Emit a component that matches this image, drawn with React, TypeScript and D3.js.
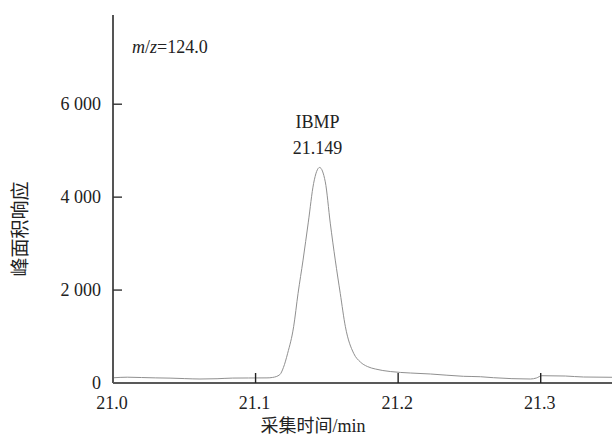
import React from "react";
import * as d3 from "d3";

const width = 612;
const height = 439;
const margin = { top: 15, right: 0, bottom: 56, left: 113 };

// retention time (min) and peak area response
const times = [
  21.0, 21.01, 21.02, 21.03, 21.04, 21.05, 21.061, 21.073, 21.084, 21.095,
  21.108, 21.112, 21.117, 21.1195, 21.1225, 21.1267, 21.1298, 21.1333, 21.137,
  21.1407, 21.1449, 21.1489, 21.1524, 21.1559, 21.1594, 21.163, 21.1688,
  21.1735, 21.1784, 21.184, 21.1945, 21.2086, 21.2226, 21.2458, 21.2577,
  21.2668, 21.2928, 21.297, 21.3008, 21.3173, 21.33, 21.3503
];
const responses = [
  112, 125, 118, 110, 105, 95, 86, 92, 106, 108,
  110, 120, 180, 330, 639, 1211, 1929, 2645, 3462,
  4295, 4639, 4329, 3440, 2645, 1929, 1211, 639,
  452, 355, 301, 247, 215, 194, 144, 135,
  114, 86, 108, 157, 150, 129, 123
];

const xTicks = [21.0, 21.1, 21.2, 21.3];
const yTicks = [0, 2000, 4000, 6000];
const xDomain = [21.0, 21.35];
const yDomain = [0, 7920];

const peakName = "IBMP";
const peakLabel = "21.149";

const fmt = d3.formatLocale({ decimal: ".", thousands: " ", grouping: [3], currency: ["", ""] }).format(",");

const serif = "'Liberation Serif'";
const cjk = "'Noto Sans CJK SC'";

export default function App() {
  const x = d3.scaleLinear().domain(xDomain).range([margin.left, width - margin.right]);
  const y = d3.scaleLinear().domain(yDomain).range([height - margin.bottom, margin.top]);

  const points: [number, number][] = times.map((t, i) => [t, responses[i]]);
  const line = d3
    .line<[number, number]>()
    .x(d => x(d[0]))
    .y(d => y(d[1]))
    .curve(d3.curveMonotoneX);

  const peakIdx = d3.maxIndex(responses);
  const px = x(times[peakIdx]) - 2;
  const y0 = y(0);
  const txt = { fontFamily: serif, fill: "#222" };

  return (
    <svg
      width={width}
      height={height}
      style={{ position: "absolute", left: 0, top: 0, background: "#fff" }}
    >
      <path d={line(points) || ""} fill="none" stroke="#909090" strokeWidth={1} />

      {/* x axis */}
      <line x1={margin.left} x2={width} y1={y0} y2={y0} stroke="#222" strokeWidth={1.6} />
      {xTicks.map(t => (
        <g key={t}>
          {t !== xTicks[0] && (
            <line x1={x(t)} x2={x(t)} y1={y0} y2={y0 - 10} stroke="#222" strokeWidth={1.4} />
          )}
          <text x={x(t) - 1} y={409} fontSize={18} textAnchor="middle" style={txt}>
            {d3.format(".1f")(t)}
          </text>
        </g>
      ))}

      {/* y axis */}
      <line x1={margin.left} x2={margin.left} y1={margin.top} y2={y0} stroke="#555" strokeWidth={2} />
      {yTicks.map(v => (
        <g key={v}>
          {v !== 0 && (
            <line x1={margin.left} x2={margin.left + 9} y1={y(v)} y2={y(v)} stroke="#333" strokeWidth={1.4} />
          )}
          <text x={101} y={y(v) + 6} fontSize={18} textAnchor="end" style={txt}>
            {fmt(v)}
          </text>
        </g>
      ))}

      {/* axis titles */}
      <text x={313} y={432} fontSize={18} textAnchor="middle" style={txt}>
        <tspan style={{ fontFamily: cjk }}>采集时间</tspan>/min
      </text>
      <text
        transform={`translate(27,229) rotate(-90)`}
        fontSize={19}
        textAnchor="middle"
        style={{ fontFamily: cjk, fill: "#222" }}
      >
        峰面积响应
      </text>

      {/* annotations */}
      <text x={132} y={53} fontSize={18} style={txt}>
        <tspan fontStyle="italic">m</tspan>/<tspan fontStyle="italic">z</tspan>=124.0
      </text>
      <text x={px} y={128} fontSize={18} textAnchor="middle" style={txt}>
        {peakName}
      </text>
      <text x={px} y={154} fontSize={18} textAnchor="middle" style={txt}>
        {peakLabel}
      </text>
    </svg>
  );
}
